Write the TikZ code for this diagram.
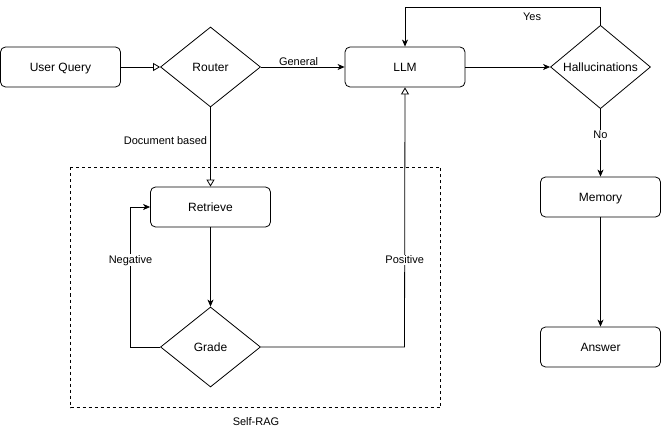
\documentclass[tikz,border=0pt]{standalone}
\usepackage{xcolor}
\usepackage{fontspec}
\setmainfont{Liberation Sans}
\usepackage{tikz}
\usetikzlibrary{shapes.geometric,arrows.meta}
\tikzstyle{process} = [rectangle, rounded corners=5pt, minimum width=120pt, minimum height=40pt, text centered, text height=8.6pt, text depth=0pt, draw=black, font=\fontsize{12}{14}\selectfont]
\tikzstyle{decision} = [diamond, minimum width=100pt, minimum height=80pt, inner sep=0pt, text centered, text height=8.6pt, text depth=0pt, draw=black, font=\fontsize{12}{14}\selectfont]
\tikzstyle{arrow} = [->, >={Stealth[length=7pt, width=6pt, inset=2pt]}]
\tikzstyle{openarrow} = [-{Triangle[open, length=7pt, width=8pt]}]
\tikzstyle{lbl} = [font=\fontsize{11}{13}\selectfont, inner sep=1pt]

\begin{document}
\begin{tikzpicture}[x=1pt, y=-1pt, line width=0.8pt]
    \useasboundingbox (0,0) rectangle (661,438);
    % Group box
    \draw [dashed, line width=0.7pt] (70.5,167.5) rectangle (440.5,407.5);
    \node (selfrag) [lbl] at (256,422) {Self-RAG};

    % Flowchart nodes
    \node (query) [process] at (60.5,67) {User Query};
    \node (router) [decision] at (210.5,67) {Router};
    \node (llm) [process] at (405,67) {LLM};
    \node (halluc) [decision] at (600.5,67) {Hallucinations};
    \node (memory) [process] at (600.5,197) {Memory};
    \node (answer) [process] at (600.5,347) {Answer};
    \node (retrieve) [process] at (210.5,207) {Retrieve};
    \node (grade) [decision] at (210.5,347) {Grade};
    \coordinate (top) at (600.5,7);

    % Arrows
    \draw [openarrow] (query) -- (router);
    \draw [arrow] (router) -- node[lbl, above, pos=0.45] {General} (llm);
    \draw [openarrow] (router) -- node[lbl, left, pos=0.42, xshift=-2pt] {Document based} (retrieve);
    \draw [arrow] (retrieve) -- (grade);
    \draw [arrow] (grade.west) -- (130.5,347) -- node[lbl, fill=white, pos=0.62] {Negative} (130.5,207) -- (retrieve.west);
    \draw [openarrow] (grade.east) -- (404.5,347) -- node[lbl, fill=white, pos=0.335] {Positive} (llm.south);
    \draw [arrow] (llm) -- (halluc);
    \draw [arrow] (halluc.north) -- (top) -- node[lbl, below, pos=0.35, yshift=-5pt] {Yes} (top -| llm) -- (llm.north);
    \draw [arrow] (halluc.south) -- node[lbl, fill=white, pos=0.38] {No} (memory);
    \draw [arrow] (memory) -- (answer);
\end{tikzpicture}
\end{document}
